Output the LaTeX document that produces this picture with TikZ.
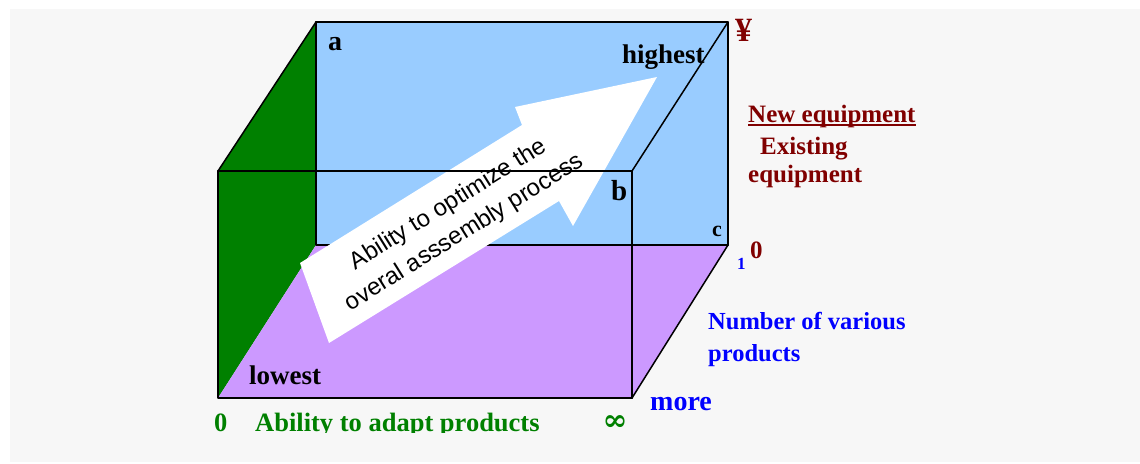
\documentclass[tikz,border=0pt]{standalone}
\usepackage{fontspec}
\setmainfont{Liberation Serif}
\newfontfamily\arialf{Liberation Sans}
\newfontfamily\dejaserif{DejaVu Serif}
\definecolor{bgray}{HTML}{F7F7F7}
\definecolor{skyb}{HTML}{99CCFF}
\definecolor{lilac}{HTML}{CC99FF}
\definecolor{dgreen}{HTML}{008000}
\definecolor{dred}{HTML}{800000}
\definecolor{tblue}{HTML}{0000FF}
\newcommand{\fsz}[1]{\bfseries\fontsize{#1}{#1}\selectfont}
\begin{document}
\begin{tikzpicture}[x=1pt,y=-1pt,
  edge/.style={line width=1.5pt, line cap=round, line join=round},
  thickedge/.style={line width=2.4pt, line cap=round, line join=round},
  lbl/.style={inner sep=0pt, anchor=base west},
  arrowtext/.style={inner sep=0pt, anchor=base, rotate=32, font=\arialf\fontsize{24}{24}\selectfont}]
\useasboundingbox (0,0) rectangle (1140,463);
\fill[white] (0,0) rectangle (1140,463);
\fill[bgray] (10,9) rectangle (1140,462);
% cube corners
\coordinate (FTL) at (218,171);
\coordinate (FBL) at (218,398);
\coordinate (FBR) at (632,398);
\coordinate (FTR) at (632,171);
\coordinate (BTL) at (316,22);
\coordinate (BTR) at (728,22);
\coordinate (BBR) at (728,245);
\coordinate (BBL) at (316,245);
% faces
\fill[skyb] (BTL) rectangle (BBR);
\fill[dgreen] (FTL) -- (BTL) -- (BBL) -- (FBL) -- cycle;
\fill[lilac] (FBL) -- (BBL) -- (BBR) -- (FBR) -- cycle;
% back edges
\draw[edge] (BTL) -- (BBL) -- (BBR);
\draw[thickedge] (BTL) -- (BTR) -- (BBR);
% big white arrow
\fill[white] (300,263) -- (522,125) -- (515,107) -- (657,77) -- (573,226) -- (559,201) -- (329,343) -- cycle;
\node[arrowtext] (t1) at (452,210) {Ability to optimize the};
\node[arrowtext] (t2) at (468,238) {overal asssembly process};
% front edges
\draw[edge] (FTL) -- (FTR) -- (FBR);
\draw[thickedge] (FTL) -- (FBL) -- (FBR);
\draw[edge] (FTL) -- (BTL);
\draw[edge] (FTR) -- (BTR);
\draw[edge] (FBR) -- (BBR);
% labels
\node[lbl, font=\fsz{28}] (la) at (328,50) {a};
\node[lbl, font=\fsz{27}] (lhigh) at (622,63) {highest};
\node[lbl, font=\fsz{29}] (lb) at (611,200) {b};
\node[lbl, font=\fsz{22}] (lc) at (712,236) {c};
\node[lbl, font=\fsz{27}] (llow) at (249,384) {lowest};
\node[lbl, font=\fsz{34}, text=dred] (yen) at (735,41) {¥};
\node[lbl, font=\fsz{25}, text=dred] (newe) at (748,122) {New equipment};
\draw[dred, line width=1.6pt] ([yshift=-2.8pt]newe.base west) -- ([yshift=-2.8pt]newe.base east);
\node[lbl, font=\fsz{25}, text=dred] (exi) at (760,154) {Existing};
\node[lbl, font=\fsz{25}, text=dred] (exi2) at (748,182) {equipment};
\node[lbl, font=\fsz{25}, text=dred] (zr) at (750,258) {0};
\node[lbl, font=\fsz{17}, text=tblue] (one) at (737,269) {1};
\node[lbl, font=\fsz{24.5}, text=tblue] (nv1) at (708,329) {Number of various};
\node[lbl, font=\fsz{24.5}, text=tblue] (nv2) at (708,361) {products};
\node[lbl, font=\fsz{28}, text=tblue] (more) at (650,410) {more};
\begin{scope}
\clip (0,0) rectangle (1140,432);
\node[lbl, font=\fsz{26.5}, text=dgreen] (zg) at (214,431) {0};
\node[lbl, font=\fsz{26.5}, text=dgreen] (adapt) at (255,431) {Ability to adapt products};
\end{scope}
\node[inner sep=0pt, font=\dejaserif\fsz{30}, text=dgreen] (inf) at (615,423) {∞};
\end{tikzpicture}
\end{document}
